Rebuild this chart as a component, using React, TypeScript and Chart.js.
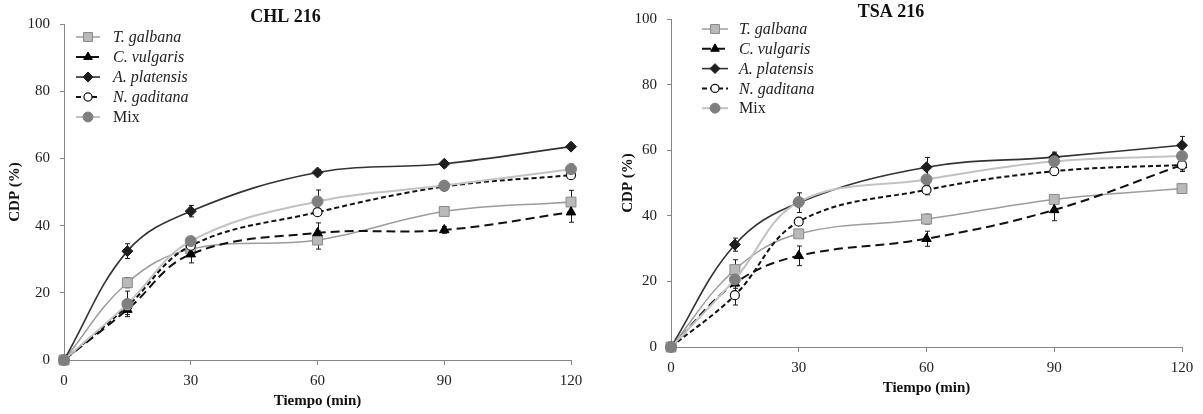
import React, { useEffect, useRef } from 'react';
import { Chart, registerables } from 'chart.js';
import { drawPoint } from 'chart.js/helpers';

Chart.register(...registerables);

// ---------- DATA ----------
const timeMin = [0, 15, 30, 60, 90, 120];
const speciesLabels = ['T. galbana', 'C. vulgaris', 'A. platensis', 'N. gaditana', 'Mix'];
const speciesItalic = [true, true, true, true, false];

// CHL 216
const chlTGalbana = [0, 23, 33, 35.7, 44.2, 47];
const chlCVulgaris = [0, 15, 31.5, 37.8, 38.7, 44];
const chlAPlatensis = [0, 32.4, 44.3, 55.8, 58.4, 63.5];
const chlNGaditana = [0, 16, 34, 44, 51.6, 55];
const chlMix = [0, 16.7, 35.4, 47.2, 51.9, 56.8];

const chlTGalbanaErr = [0, 1.5, 1, 2.7, 1, 3.5];
const chlCVulgarisErr = [0, 1.5, 2.6, 3, 1, 3];
const chlAPlatensisErr = [0, 2.2, 1.7, 0.8, 1, 0.8];
const chlNGaditanaErr = [0, 1.5, 1, 1, 1, 1];
const chlMixErr = [0, 3.8, 1, 3.4, 1, 1.5];

// TSA 216
const tsaTGalbana = [0, 23.6, 34.5, 39, 45, 48.3];
const tsaCVulgaris = [0, 19.4, 27.8, 33, 41.8, 55.5];
const tsaAPlatensis = [0, 31.2, 44, 54.8, 57.9, 61.5];
const tsaNGaditana = [0, 15.8, 38.2, 47.9, 53.6, 55.5];
const tsaMix = [0, 20.6, 44.2, 51.1, 56.6, 58.2];

const tsaTGalbanaErr = [0, 3, 1, 1.5, 1, 1];
const tsaCVulgarisErr = [0, 1.5, 3, 2.3, 3.3, 2];
const tsaAPlatensisErr = [0, 2, 3, 3, 1.5, 2.7];
const tsaNGaditanaErr = [0, 3, 1, 1.5, 1.2, 1.5];
const tsaMixErr = [0, 1.5, 1, 1, 1, 1];

// ---------- STYLES ----------
const FONT = "'Liberation Serif', 'Times New Roman', serif";
const seriesStyles = [
  { borderColor: '#9c9c9c', borderWidth: 1.5, borderDash: [], pointStyle: 'rect', pointRadius: 7, bg: '#b9b9b9', pb: '#8a8a8a', pbw: 1 },
  { borderColor: '#111111', borderWidth: 2, borderDash: [9, 5], pointStyle: 'triangle', pointRadius: 5.5, bg: '#000000', pb: '#000000', pbw: 1 },
  { borderColor: '#333333', borderWidth: 1.6, borderDash: [], pointStyle: 'rectRot', pointRadius: 5.5, bg: '#1e1e1e', pb: '#1e1e1e', pbw: 1 },
  { borderColor: '#111111', borderWidth: 2, borderDash: [5, 3], pointStyle: 'circle', pointRadius: 4.5, bg: '#ffffff', pb: '#111111', pbw: 1.2 },
  { borderColor: '#c2c2c2', borderWidth: 2, borderDash: [], pointStyle: 'circle', pointRadius: 5.5, bg: '#7f7f7f', pb: '#7f7f7f', pbw: 1 },
];

function buildDatasets(values: number[][], errors: number[][]) {
  return values.map((vals, i) => {
    const s = seriesStyles[i];
    return {
      label: speciesLabels[i],
      italic: speciesItalic[i],
      data: vals.map((v, j) => ({ x: timeMin[j], y: v })),
      errorBars: errors[i],
      borderColor: s.borderColor,
      borderWidth: s.borderWidth,
      borderDash: s.borderDash,
      pointStyle: s.pointStyle,
      pointRadius: s.pointRadius,
      pointBackgroundColor: s.bg,
      pointBorderColor: s.pb,
      pointBorderWidth: s.pbw,
      tension: 0.38,
      fill: false,
      clip: false,
      order: values.length - i,
    };
  });
}

function makeErrorBarPlugin() {
  return {
    id: 'errorBars',
    beforeDatasetsDraw(chart: any) {
      const { ctx } = chart;
      const xs = chart.scales.x;
      const ys = chart.scales.y;
      ctx.save();
      ctx.strokeStyle = '#1a1a1a';
      ctx.lineWidth = 1;
      ctx.setLineDash([]);
      chart.data.datasets.forEach((ds: any) => {
        const errs = ds.errorBars;
        if (!errs) return;
        ds.data.forEach((p: any, j: number) => {
          const e = errs[j];
          if (!e) return;
          const px = Math.round(xs.getPixelForValue(p.x)) + 0.5;
          const yt = ys.getPixelForValue(p.y + e);
          const yb = ys.getPixelForValue(p.y - e);
          ctx.beginPath();
          ctx.moveTo(px, yt);
          ctx.lineTo(px, yb);
          ctx.moveTo(px - 2.5, yt);
          ctx.lineTo(px + 2.5, yt);
          ctx.moveTo(px - 2.5, yb);
          ctx.lineTo(px + 2.5, yb);
          ctx.stroke();
        });
      });
      ctx.restore();
    },
  };
}

function makeLegendPlugin(pos: { x: number; y: number; step: number; lineLen: number; gap: number }) {
  return {
    id: 'lineLegend',
    afterDraw(chart: any) {
      const { ctx } = chart;
      chart.data.datasets.forEach((ds: any, i: number) => {
        const y = pos.y + i * pos.step;
        ctx.save();
        ctx.strokeStyle = ds.borderColor;
        ctx.lineWidth = ds.borderWidth;
        ctx.setLineDash(ds.borderDash || []);
        ctx.beginPath();
        ctx.moveTo(pos.x, y);
        ctx.lineTo(pos.x + pos.lineLen, y);
        ctx.stroke();
        ctx.setLineDash([]);
        ctx.fillStyle = ds.pointBackgroundColor;
        ctx.strokeStyle = ds.pointBorderColor;
        ctx.lineWidth = ds.pointBorderWidth;
        drawPoint(
          ctx,
          { pointStyle: ds.pointStyle, radius: ds.pointRadius * 0.9, rotation: 0, borderWidth: ds.pointBorderWidth } as any,
          pos.x + pos.lineLen / 2,
          y
        );
        ctx.fillStyle = '#222222';
        ctx.font = (ds.italic ? 'italic ' : '') + '16px ' + FONT;
        ctx.textAlign = 'left';
        ctx.textBaseline = 'middle';
        ctx.fillText(ds.label, pos.x + pos.lineLen + pos.gap, y + 1);
        ctx.restore();
      });
    },
  };
}

type PanelCfg = {
  title: string;
  left: number;
  width: number;
  values: number[][];
  errors: number[][];
  yAxisWidth: number;
  rightPad: number;
  bottomPad: number;
  titlePadTop: number;
  titlePadBottom: number;
  yTitlePad: number;
  legend: { x: number; y: number; step: number; lineLen: number; gap: number };
};

function Panel({ cfg }: { cfg: PanelCfg }) {
  const ref = useRef<HTMLCanvasElement | null>(null);
  useEffect(() => {
    if (!ref.current) return;
    const axisColor = '#868686';
    const chart = new Chart(ref.current, {
      type: 'line',
      data: { datasets: buildDatasets(cfg.values, cfg.errors) as any },
      options: {
        responsive: false,
        animation: false,
        events: [],
        layout: { padding: { left: 0, right: cfg.rightPad, top: 0, bottom: cfg.bottomPad } },
        plugins: {
          legend: { display: false },
          tooltip: { enabled: false },
          title: {
            display: true,
            text: cfg.title,
            color: '#111111',
            font: { family: FONT, size: 18, weight: 'bold', lineHeight: 1 },
            padding: { top: cfg.titlePadTop, bottom: cfg.titlePadBottom },
          },
        },
        scales: {
          x: {
            type: 'linear',
            min: 0,
            max: 120,
            afterFit: (s: any) => {
              s.height = 54;
            },
            border: { color: axisColor, width: 1 },
            grid: { drawOnChartArea: false, drawTicks: true, tickLength: 5, color: axisColor },
            ticks: { stepSize: 30, color: '#222222', padding: 7, font: { family: FONT, size: 15 } },
            title: {
              display: true,
              text: 'Tiempo (min)',
              color: '#111111',
              font: { family: FONT, size: 15, weight: 'bold', lineHeight: 1.2 },
              padding: { top: 0, bottom: 4 },
            },
          },
          y: {
            type: 'linear',
            min: 0,
            max: 100,
            afterFit: (s: any) => {
              s.width = cfg.yAxisWidth;
            },
            border: { color: axisColor, width: 1 },
            grid: { drawOnChartArea: false, drawTicks: true, tickLength: 4, color: axisColor },
            ticks: { stepSize: 20, color: '#222222', padding: 10, font: { family: FONT, size: 15 } },
            title: {
              display: true,
              text: 'CDP (%)',
              color: '#111111',
              font: { family: FONT, size: 15, weight: 'bold', lineHeight: 1.2 },
              padding: { top: cfg.yTitlePad, bottom: 0 },
            },
          },
        },
      } as any,
      plugins: [makeErrorBarPlugin(), makeLegendPlugin(cfg.legend)],
    });
    return () => chart.destroy();
  }, []);
  return (
    <div style={{ position: 'absolute', left: cfg.left, top: 0, width: cfg.width, height: 414 }}>
      <canvas ref={ref} width={cfg.width} height={414} style={{ display: 'block' }} />
    </div>
  );
}

const chlCfg: PanelCfg = {
  title: 'CHL 216',
  left: 0,
  width: 600,
  values: [chlTGalbana, chlCVulgaris, chlAPlatensis, chlNGaditana, chlMix],
  errors: [chlTGalbanaErr, chlCVulgarisErr, chlAPlatensisErr, chlNGaditanaErr, chlMixErr],
  yAxisWidth: 64,
  rightPad: 29,
  bottomPad: 0,
  titlePadTop: 8,
  titlePadBottom: -2,
  yTitlePad: 6,
  legend: { x: 76, y: 37, step: 20, lineLen: 24, gap: 13 },
};

const tsaCfg: PanelCfg = {
  title: 'TSA 216',
  left: 600,
  width: 603,
  values: [tsaTGalbana, tsaCVulgaris, tsaAPlatensis, tsaNGaditana, tsaMix],
  errors: [tsaTGalbanaErr, tsaCVulgarisErr, tsaAPlatensisErr, tsaNGaditanaErr, tsaMixErr],
  yAxisWidth: 71,
  rightPad: 21,
  bottomPad: 13,
  titlePadTop: 1,
  titlePadBottom: -2,
  yTitlePad: 19,
  legend: { x: 102, y: 29, step: 19.8, lineLen: 26, gap: 11 },
};

export default function App() {
  return (
    <div style={{ position: 'fixed', left: 0, top: 0, width: 1203, height: 414, background: '#ffffff', overflow: 'hidden' }}>
      <Panel cfg={chlCfg} />
      <Panel cfg={tsaCfg} />
    </div>
  );
}
